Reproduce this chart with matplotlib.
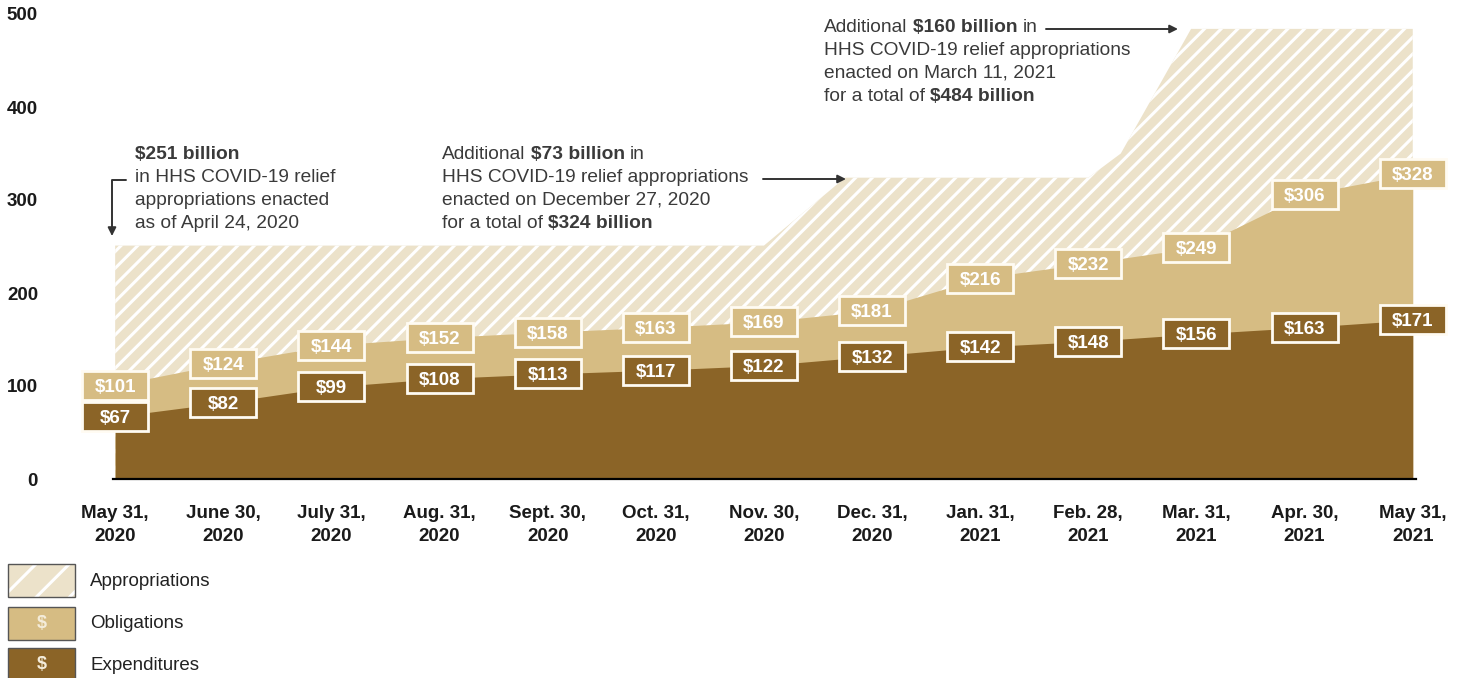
import numpy as np
import matplotlib
matplotlib.use("Agg")
import matplotlib.pyplot as plt
import matplotlib.transforms as mtransforms
from matplotlib.patches import Rectangle
from matplotlib.offsetbox import TextArea, HPacker, VPacker, AnnotationBbox

# data (billions of dollars)
months = ["May 31,\n2020", "June 30,\n2020", "July 31,\n2020", "Aug. 31,\n2020",
          "Sept. 30,\n2020", "Oct. 31,\n2020", "Nov. 30,\n2020", "Dec. 31,\n2020",
          "Jan. 31,\n2021", "Feb. 28,\n2021", "Mar. 31,\n2021", "Apr. 30,\n2021",
          "May 31,\n2021"]
obligations = [101, 124, 144, 152, 158, 163, 169, 181, 216, 232, 249, 306, 328]
expenditures = [67, 82, 99, 108, 113, 117, 122, 132, 142, 148, 156, 163, 171]
# appropriations outline (position in month index, value)
approp_pos = [0, 6, 6.75, 9, 9.3, 9.95, 12]
approp = [251, 251, 324, 324, 350, 484, 484]

APPR = "#ECE2CA"
OBL = "#D6BC83"
EXP = "#8B6427"
BOX_EDGE = "#FFFBF2"
TXT = "#3a3a3a"
FS = 13.5

plt.rcParams["font.family"] = ["Liberation Sans", "DejaVu Sans"]
plt.rcParams["hatch.color"] = "white"
plt.rcParams["hatch.linewidth"] = 2.2

W, H = 1461, 678
fig = plt.figure(figsize=(W / 100, H / 100), dpi=100)
ax = fig.add_axes([113 / W, 1 - 479 / H, 1303 / W, 465 / H])


def px(x, y):
    # top-left pixel -> figure fraction
    return (x / W, 1 - y / H)


x = np.arange(len(months))
ax.fill_between(approp_pos, 0, approp, facecolor=APPR, edgecolor="white",
                hatch="//", linewidth=0)
ax.fill_between(x, 0, obligations, color=OBL, linewidth=0)
ax.fill_between(x, 0, expenditures, color=EXP, linewidth=0)


def value_box(xv, yv, color):
    trans = fig.dpi_scale_trans + mtransforms.ScaledTranslation(xv, yv, ax.transData)
    ax.add_patch(Rectangle((-0.33, -0.145), 0.66, 0.29, transform=trans,
                           facecolor=color, edgecolor=BOX_EDGE, lw=2,
                           clip_on=False, zorder=5))
    ax.text(xv, yv, f"${yv}", ha="center", va="center_baseline", color="white",
            fontsize=FS, fontweight="bold", zorder=6, clip_on=False)


for i in x:
    value_box(i, obligations[i], OBL)
    value_box(i, expenditures[i], EXP)

ax.set_xlim(-0.02, 12.03)
ax.set_ylim(0, 500)
ax.set_xticks(x, months)
ax.set_yticks(range(0, 501, 100))
ax.tick_params(axis="x", length=0, pad=19, labelsize=FS, labelcolor="#1a1a1a")
ax.tick_params(axis="y", length=0, pad=54, labelsize=FS, labelcolor="#1a1a1a")
for lab in ax.get_xticklabels():
    lab.set_fontweight("bold")
    lab.set_linespacing(1.4)
for lab in ax.get_yticklabels():
    lab.set_fontweight("bold")
for s in ["left", "top", "right"]:
    ax.spines[s].set_visible(False)
ax.spines["bottom"].set_linewidth(1.6)
ax.spines["bottom"].set_color("black")


def rich(lines, left, top):
    rows = []
    for line in lines:
        parts = [TextArea(t, textprops=dict(fontsize=13.8, color=TXT,
                                            fontweight="bold" if b else "normal"))
                 for t, b in line]
        rows.append(HPacker(children=parts, pad=0, sep=3.8, align="baseline"))
    box = VPacker(children=rows, pad=0, sep=4.3, align="left")
    ab = AnnotationBbox(box, px(left, top), xycoords="figure fraction",
                        box_alignment=(0, 1), frameon=False, pad=0)
    fig.add_artist(ab)


rich([[("$251 billion", True)],
      [("in HHS COVID-19 relief", False)],
      [("appropriations enacted", False)],
      [("as of April 24, 2020", False)]], 135, 146)
rich([[("Additional", False), ("$73 billion", True), ("in", False)],
      [("HHS COVID-19 relief appropriations", False)],
      [("enacted on December 27, 2020", False)],
      [("for a total of", False), ("$324 billion", True)]], 442, 146)
rich([[("Additional", False), ("$160 billion", True), ("in", False)],
      [("HHS COVID-19 relief appropriations", False)],
      [("enacted on March 11, 2021", False)],
      [("for a total of", False), ("$484 billion", True)]], 824, 19)

arrow = dict(arrowstyle="-|>", color="#333333", lw=1.4, mutation_scale=12,
             shrinkA=0, shrinkB=0)
fig.add_artist(plt.Annotation("", xy=px(112, 236), xytext=px(126, 180),
                              xycoords="figure fraction", textcoords="figure fraction",
                              arrowprops=dict(arrow, connectionstyle="angle,angleA=0,angleB=90,rad=0")))
fig.add_artist(plt.Annotation("", xy=px(846, 179), xytext=px(763, 179),
                              xycoords="figure fraction", textcoords="figure fraction",
                              arrowprops=arrow))
fig.add_artist(plt.Annotation("", xy=px(1178, 29), xytext=px(1046, 29),
                              xycoords="figure fraction", textcoords="figure fraction",
                              arrowprops=arrow))

# legend
legend_items = [("Appropriations", APPR, True, 564),
                ("Obligations", OBL, False, 607),
                ("Expenditures", EXP, False, 648)]
for label, color, hatched, top in legend_items:
    x0, y0 = px(8, top + 33)
    w, h = 67 / W, 33 / H
    if hatched:
        fig.add_artist(Rectangle((x0, y0), w, h, transform=fig.transFigure,
                                 facecolor=color, edgecolor="white", hatch="/", lw=0))
        fig.add_artist(Rectangle((x0, y0), w, h, transform=fig.transFigure,
                                 facecolor="none", edgecolor="#555555", lw=1))
    else:
        fig.add_artist(Rectangle((x0, y0), w, h, transform=fig.transFigure,
                                 facecolor=color, edgecolor="#555555", lw=1))
        fig.text(x0 + w / 2, y0 + h / 2, "$", ha="center", va="center",
                 color="#F4ECDA", fontsize=13, fontweight="bold")
    fig.text(90 / W, px(0, top + 17)[1], label, ha="left", va="center",
             color="#222222", fontsize=FS)

fig.savefig("out.png", dpi=100)
